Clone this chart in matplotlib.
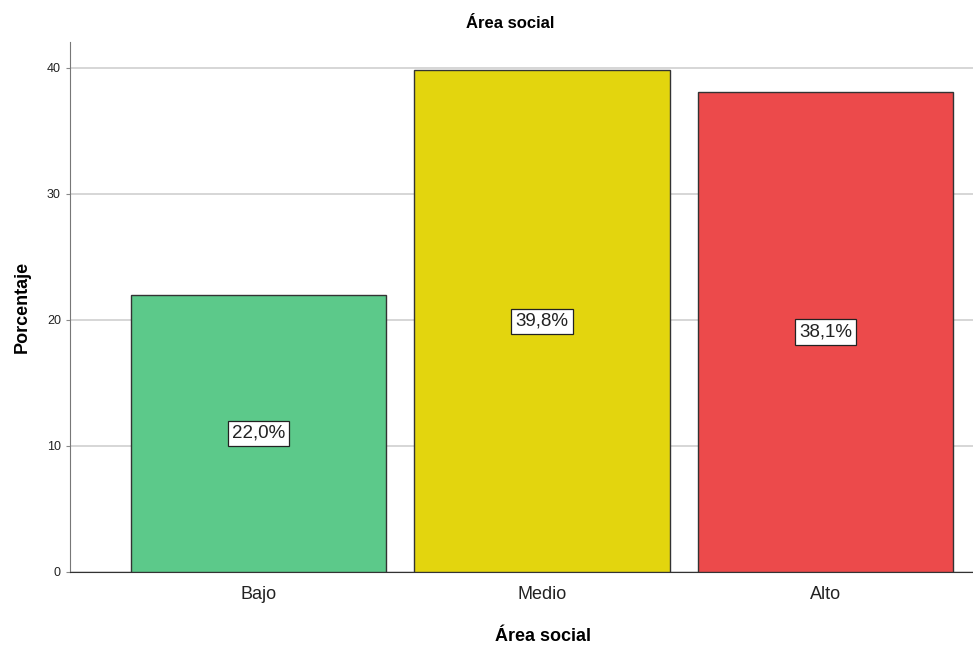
import matplotlib
matplotlib.use("Agg")
import matplotlib.pyplot as plt
import numpy as np

plt.rcParams["font.family"] = ["Liberation Sans", "DejaVu Sans"]

categories = ["Bajo", "Medio", "Alto"]
percentages = [22.0, 39.8, 38.1]
colors = ["#5CC98A", "#E3D50E", "#EC4A4B"]

fig = plt.figure(figsize=(9.73, 6.48), dpi=100)
ax = fig.add_axes([0.0719, 0.1173, 0.9281, 0.8179])

x = np.arange(len(categories))
bars = ax.bar(x, percentages, width=0.9, color=colors, edgecolor="#333333", linewidth=1.0, zorder=3)

# percentage labels in the middle of each bar
for xi, val in zip(x, percentages):
    ax.text(xi, val / 2, f"{val:.1f}%".replace(".", ","), ha="center", va="center",
            fontsize=13.5, color="#222222", zorder=4,
            bbox=dict(boxstyle="square,pad=0.22", facecolor="white", edgecolor="#222222", linewidth=0.9))

ax.set_xlim(-0.665, 2.52)
ax.set_ylim(0, 42.06)
ax.set_yticks([0, 10, 20, 30, 40])
ax.set_xticks(x)
ax.set_xticklabels(categories, fontsize=13, color="#222222")
ax.tick_params(axis="y", labelsize=9, colors="#222222", length=3, color="#888888")
ax.tick_params(axis="x", length=0, pad=10)
ax.grid(axis="y", color="#d0d0d0", linewidth=1.2, zorder=0)

for side in ["top", "right"]:
    ax.spines[side].set_visible(False)
ax.spines["left"].set_color("#777777")
ax.spines["bottom"].set_color("#333333")

ax.set_title("Área social", fontsize=12, fontweight="bold", pad=10, x=0.488)
ax.set_xlabel("Área social", fontsize=13, fontweight="bold", labelpad=18, x=0.524)
ax.set_ylabel("Porcentaje", fontsize=13, fontweight="bold", labelpad=12)

fig.savefig("out.png", dpi=100)
